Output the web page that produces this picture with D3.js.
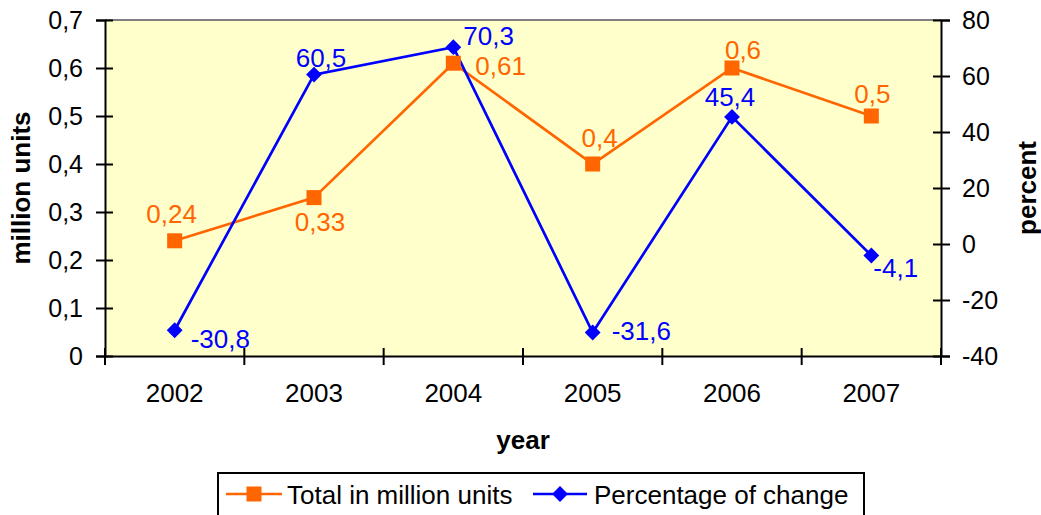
<!DOCTYPE html>
<html>
<head>
<meta charset="utf-8">
<script src="https://cdn.jsdelivr.net/npm/d3@7"></script>
<style>
  body { margin: 0; background: #fff; }
  text { font-family: "Liberation Sans", Arial, sans-serif; }
</style>
</head>
<body>
<script>
// data
var years = ["2002", "2003", "2004", "2005", "2006", "2007"];
var totalUnits = [0.24, 0.33, 0.61, 0.4, 0.6, 0.5];
var pctChange = [-30.8, 60.5, 70.3, -31.6, 45.4, -4.1];
var leftTicks = [0, 0.1, 0.2, 0.3, 0.4, 0.5, 0.6, 0.7];
var rightTicks = [-40, -20, 0, 20, 40, 60, 80];

// label placement (anchor, dx, dy from marker)
var unitLabelPos = [["middle", -3, -18], ["middle", 6, 33], ["start", 22, 12],
                    ["middle", 7, -17], ["middle", 11, -9], ["middle", 1, -13]];
var pctLabelPos = [["start", 16, 18], ["middle", 7, -8], ["start", 10, -2],
                   ["start", 19, 8], ["middle", -2, -11], ["start", 2, 22]];

var orange = "#FF6600", blue = "#0000FF";

var locale = d3.formatLocale({ decimal: ",", thousands: ".", grouping: [3], currency: ["", ""], minus: "-" });

var W = 1041, H = 515;
var margin = { top: 20, right: 100, bottom: 159, left: 105 },
    width = W - margin.left - margin.right,
    height = H - margin.top - margin.bottom;

var svg = d3.select("body").append("svg")
    .attr("width", W)
    .attr("height", H);

var g = svg.append("g")
    .attr("transform", "translate(" + margin.left + "," + margin.top + ")");

var xScale = d3.scaleBand().domain(years).range([0, width]);
var yLeft = d3.scaleLinear().domain([0, 0.7]).range([height, 0]);
var yRight = d3.scaleLinear().domain([-40, 80]).range([height, 0]);

// plot background
g.append("rect")
    .attr("width", width).attr("height", height)
    .attr("fill", "#FFFFCC");
g.append("line")
    .attr("x1", 0).attr("x2", width).attr("y1", 0).attr("y2", 0)
    .attr("stroke", "#808080").attr("stroke-width", 2);

// left axis
var la = g.append("g")
    .call(d3.axisLeft(yLeft).tickValues(leftTicks).tickFormat(locale.format(".1~f")).tickSize(9).tickPadding(13));
la.selectAll(".tick line").attr("x2", -9).attr("x1", 8);
// right axis
var ra = g.append("g")
    .attr("transform", "translate(" + width + ",0)")
    .call(d3.axisRight(yRight).tickValues(rightTicks).tickFormat(locale.format("d")).tickSize(9).tickPadding(12));
ra.selectAll(".tick line").attr("x2", 9).attr("x1", -8);
// bottom axis
var ba = g.append("g")
    .attr("transform", "translate(0," + height + ")")
    .call(d3.axisBottom(xScale).tickSize(0).tickPadding(28));
var bounds = years.map(function (d) { return xScale(d); }).concat([width]);
ba.selectAll(".bound").data(bounds).enter().append("line")
    .attr("x1", function (d) { return d; }).attr("x2", function (d) { return d; })
    .attr("y1", -8).attr("y2", 9)
    .attr("stroke", "#000").attr("stroke-width", 2);

[la, ra, ba].forEach(function (a) {
    a.select(".domain").attr("stroke", "#000").attr("stroke-width", 2);
    a.selectAll(".tick line").attr("stroke", "#000").attr("stroke-width", 2);
    a.selectAll("text").style("font-size", "25px").style("fill", "#000")
        .style("font-family", "'Liberation Sans', Arial, sans-serif");
});
ba.selectAll("text").style("font-size", "26px");

// axis titles
svg.append("text")
    .attr("transform", "translate(30," + (margin.top + height / 2) + ") rotate(-90)")
    .attr("text-anchor", "middle")
    .style("font-size", "26px").style("font-weight", "bold")
    .text("million units");
svg.append("text")
    .attr("transform", "translate(1036," + (margin.top + height / 2) + ") rotate(-90)")
    .attr("text-anchor", "middle")
    .style("font-size", "26px").style("font-weight", "bold")
    .text("percent");
svg.append("text")
    .attr("x", margin.left + width / 2).attr("y", 449)
    .attr("text-anchor", "middle")
    .style("font-size", "26px").style("font-weight", "bold")
    .text("year");

var cx = function (i) { return xScale(years[i]) + xScale.bandwidth() / 2; };

// total line
g.append("path")
    .datum(totalUnits)
    .attr("fill", "none").attr("stroke", orange).attr("stroke-width", 2.7)
    .attr("d", d3.line().x(function (d, i) { return cx(i); }).y(function (d) { return yLeft(d); }));
// percent line
g.append("path")
    .datum(pctChange)
    .attr("fill", "none").attr("stroke", blue).attr("stroke-width", 2.7)
    .attr("d", d3.line().x(function (d, i) { return cx(i); }).y(function (d) { return yRight(d); }));

g.selectAll(".sq").data(totalUnits).enter().append("rect")
    .attr("x", function (d, i) { return cx(i) - 7.5; })
    .attr("y", function (d) { return yLeft(d) - 7.5; })
    .attr("width", 15).attr("height", 15)
    .attr("fill", orange);

var diamond = d3.symbol().type(d3.symbolDiamond2).size(160);
g.selectAll(".dm").data(pctChange).enter().append("path")
    .attr("d", diamond)
    .attr("transform", function (d, i) { return "translate(" + cx(i) + "," + yRight(d) + ")"; })
    .attr("fill", blue);

// data labels
var fUnits = locale.format(".2~f"), fPct = locale.format(".1f");
g.selectAll(".ul").data(totalUnits).enter().append("text")
    .attr("x", function (d, i) { return cx(i) + unitLabelPos[i][1]; })
    .attr("y", function (d, i) { return yLeft(d) + unitLabelPos[i][2]; })
    .attr("text-anchor", function (d, i) { return unitLabelPos[i][0]; })
    .style("font-size", "26px").style("fill", orange)
    .text(function (d) { return fUnits(d); });
g.selectAll(".pl").data(pctChange).enter().append("text")
    .attr("x", function (d, i) { return cx(i) + pctLabelPos[i][1]; })
    .attr("y", function (d, i) { return yRight(d) + pctLabelPos[i][2]; })
    .attr("text-anchor", function (d, i) { return pctLabelPos[i][0]; })
    .style("font-size", "26px").style("fill", blue)
    .text(function (d) { return fPct(d); });

// legend
var lg = svg.append("g");
lg.append("rect")
    .attr("x", 218).attr("y", 473).attr("width", 646).attr("height", 60)
    .attr("fill", "#fff").attr("stroke", "#000").attr("stroke-width", 2);
lg.append("line").attr("x1", 226).attr("x2", 282).attr("y1", 494).attr("y2", 494)
    .attr("stroke", orange).attr("stroke-width", 2.7);
lg.append("rect").attr("x", 246.5).attr("y", 486.5).attr("width", 15).attr("height", 15).attr("fill", orange);
lg.append("text").attr("x", 287).attr("y", 504).style("font-size", "26px").text("Total in million units");
lg.append("line").attr("x1", 533).attr("x2", 587).attr("y1", 494).attr("y2", 494)
    .attr("stroke", blue).attr("stroke-width", 2.7);
lg.append("path").attr("d", diamond).attr("transform", "translate(560,494)").attr("fill", blue);
lg.append("text").attr("x", 594).attr("y", 504).style("font-size", "26px").text("Percentage of change");
</script>
</body>
</html>
